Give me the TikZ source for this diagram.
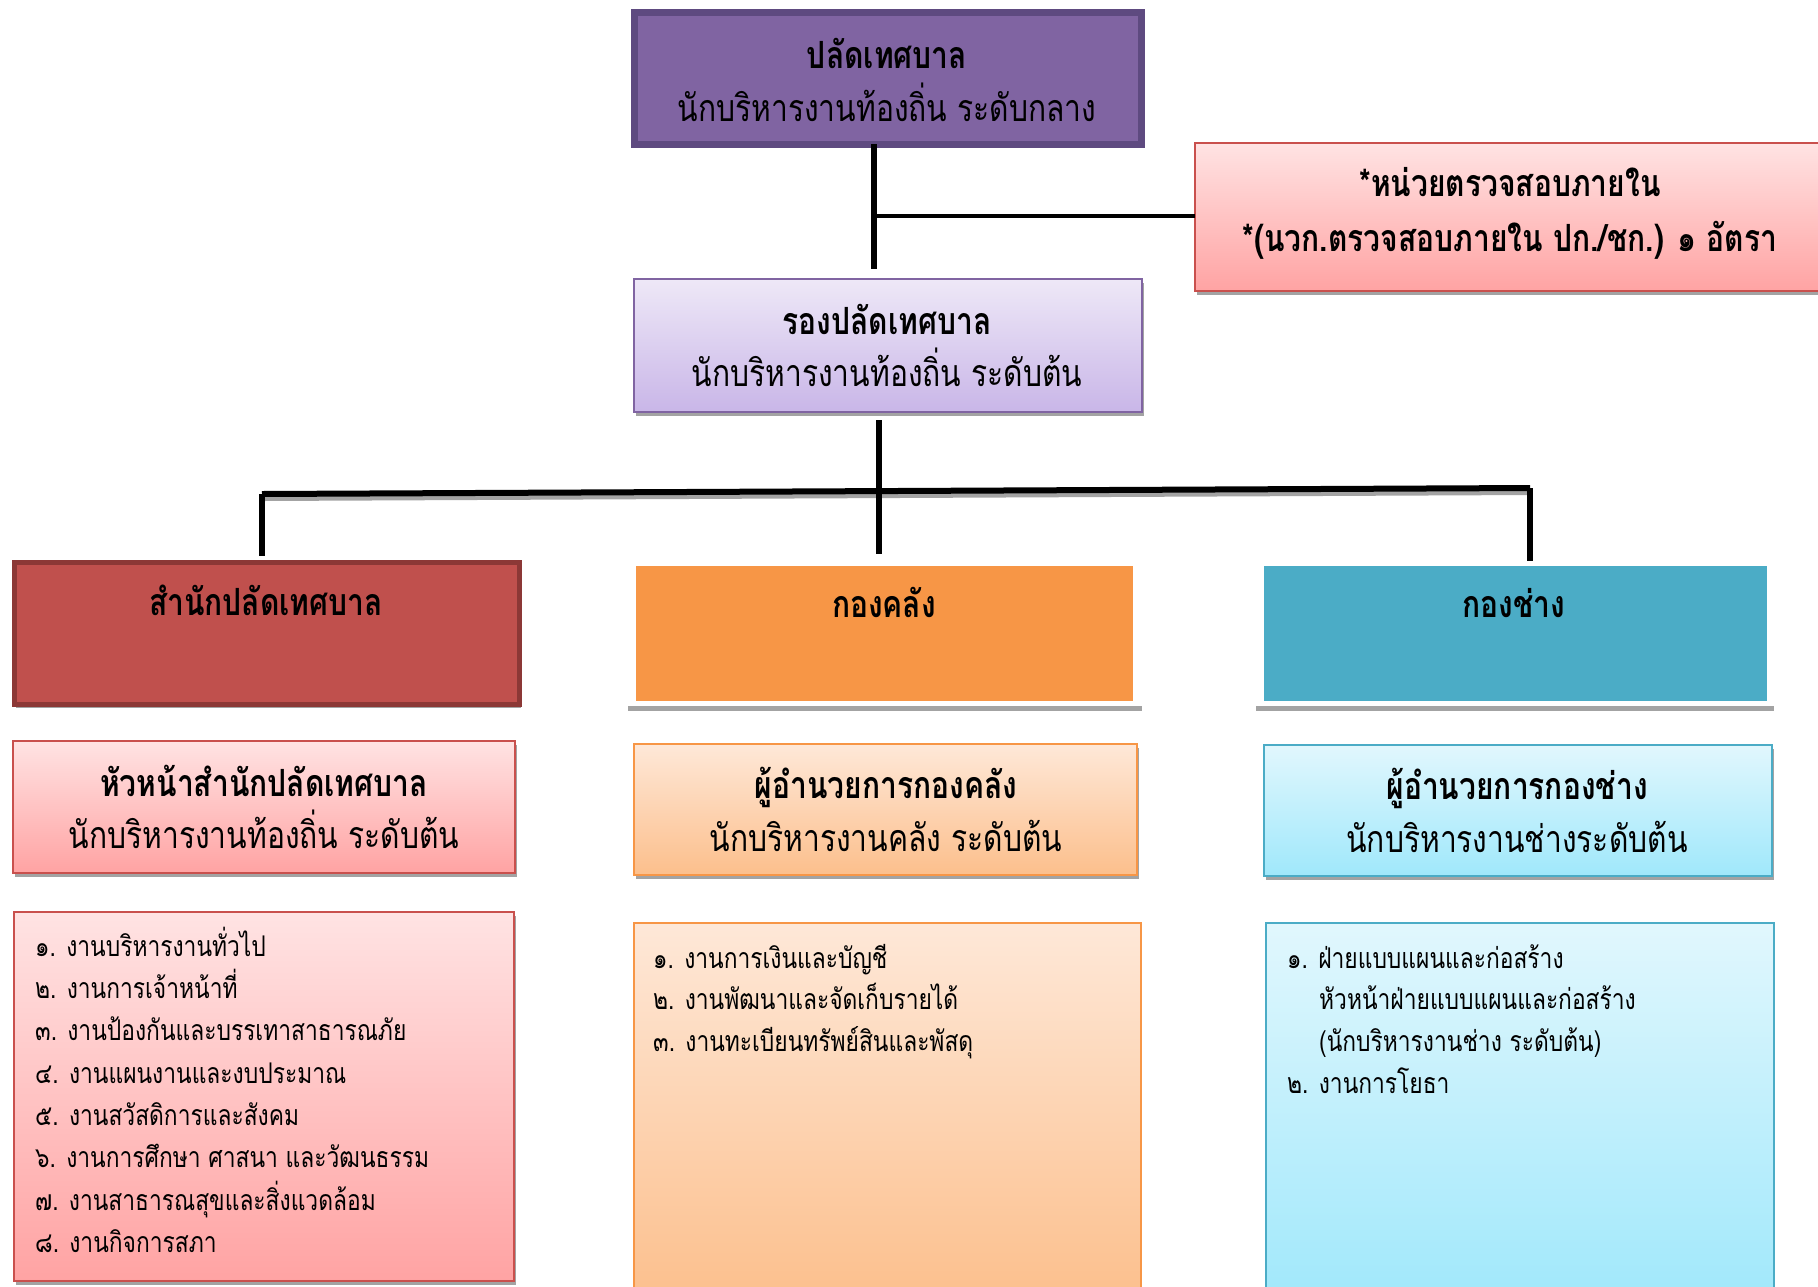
\documentclass[tikz,border=0pt]{standalone}
\usepackage{fontspec}
\newfontfamily\thai[Script=Thai, FakeStretch=0.8]{Loma}
\begin{document}
\definecolor{topfill}{HTML}{8064A2}
\definecolor{topline}{HTML}{5E4A80}
\definecolor{subline}{HTML}{8064A2}
\definecolor{subtop}{HTML}{EEE8F7}
\definecolor{subbot}{HTML}{C9B6E8}
\definecolor{redline}{HTML}{C9504D}
\definecolor{pinktop}{HTML}{FFE3E3}
\definecolor{pinkbot}{HTML}{FFA3A3}
\definecolor{redfill}{HTML}{C0504D}
\definecolor{redborder}{HTML}{8C3836}
\definecolor{orfill}{HTML}{F79646}
\definecolor{ortop}{HTML}{FEE8D8}
\definecolor{orbot}{HTML}{FCBF8C}
\definecolor{blfill}{HTML}{4BACC6}
\definecolor{bltop}{HTML}{E1F7FD}
\definecolor{blbot}{HTML}{A0E8FB}
\definecolor{shadowgray}{HTML}{A3A3A3}
\begin{tikzpicture}[x=1pt,y=-1pt,
  box/.style={rectangle, anchor=north west, inner sep=0pt, outer sep=0pt},
  shad/.style={preaction={fill=shadowgray, transform canvas={shift={(2pt,-4pt)}}}},
  fshad/.style={preaction={fill=shadowgray, transform canvas={shift={(0pt,-5pt)}}}},
  hd/.style={font=\thai\bfseries\fontsize{37.5}{44}\selectfont, anchor=mid, inner sep=0pt},
  rg/.style={font=\thai\fontsize{37.5}{44}\selectfont, anchor=mid, inner sep=0pt},
  li/.style={font=\thai\fontsize{28.5}{34}\selectfont, anchor=mid west, inner sep=0pt},
  conn/.style={draw=black, line width=6pt},
  thin/.style={draw=black, line width=3.5pt}
]
\useasboundingbox (0,0) rectangle (1818,1286);
\fill[white] (0,0) rectangle (1818,1286);

% ---- top box
\node[box, shad, fill=topfill, draw=topline, line width=7pt, minimum width=507pt, minimum height=132pt] (pb) at (634,12) {};
\node[hd] (pbt1) at (887,66) {ปลัดเทศบาล};
\node[rg] (pbt2) at (887,119) {นักบริหารงานท้องถิ่น ระดับกลาง};

% ---- audit box
\node[box, shad, top color=pinktop, bottom color=pinkbot, draw=redline, line width=1.5pt, minimum width=640pt, minimum height=148pt] (au) at (1195,143) {};
\node[hd] (aut1) at (1510,194) {*หน่วยตรวจสอบภายใน};
\node[hd] (aut2) at (1510,249) {*(นวก.ตรวจสอบภายใน ปก./ชก.) ๑ อัตรา};

% ---- deputy box
\node[box, shad, top color=subtop, bottom color=subbot, draw=subline, line width=2pt, minimum width=508pt, minimum height=133pt] (rp) at (634,279) {};
\node[hd] (rpt1) at (887,332) {รองปลัดเทศบาล};
\node[rg] (rpt2) at (887,384) {นักบริหารงานท้องถิ่น ระดับต้น};

% ---- row 3
\node[box, shad, fill=redfill, draw=redborder, line width=5pt, minimum width=505pt, minimum height=142pt] (sp) at (14,562) {};
\node[hd] (spt) at (266,613) {สำนักปลัดเทศบาล};
\node[box, fshad, fill=white, minimum width=514pt, minimum height=144pt] (klf) at (628,562) {};
\node[box, fill=orfill, minimum width=497pt, minimum height=135pt] (kl) at (636,566) {};
\node[hd] (klt) at (884,615) {กองคลัง};
\node[box, fshad, fill=white, minimum width=518pt, minimum height=144pt] (kcf) at (1256,562) {};
\node[box, fill=blfill, minimum width=503pt, minimum height=135pt] (kc) at (1264,566) {};
\node[hd] (kct) at (1514,615) {กองช่าง};

% ---- row 4
\node[box, shad, top color=pinktop, bottom color=pinkbot, draw=redline, line width=1.5pt, minimum width=502pt, minimum height=132pt] (h1) at (13,741) {};
\node[hd] (h1a) at (264,794) {หัวหน้าสำนักปลัดเทศบาล};
\node[rg] (h1b) at (264,846) {นักบริหารงานท้องถิ่น ระดับต้น};
\node[box, shad, top color=ortop, bottom color=orbot, draw=orfill, line width=1.5pt, minimum width=503pt, minimum height=131pt] (h2) at (634,744) {};
\node[hd] (h2a) at (886,796) {ผู้อำนวยการกองคลัง};
\node[rg] (h2b) at (886,849) {นักบริหารงานคลัง ระดับต้น};
\node[box, shad, top color=bltop, bottom color=blbot, draw=blfill, line width=1.5pt, minimum width=508pt, minimum height=131pt] (h3) at (1264,745) {};
\node[hd] (h3a) at (1517,797) {ผู้อำนวยการกองช่าง};
\node[rg] (h3b) at (1517,850) {นักบริหารงานช่างระดับต้น};

% ---- row 5
\node[box, shad, top color=pinktop, bottom color=pinkbot, draw=redline, line width=1.5pt, minimum width=500pt, minimum height=369pt] (l1) at (14,912) {};
\node[li] (l1a) at (35,954) {๑. งานบริหารงานทั่วไป};
\node[li] (l1b) at (35,996) {๒. งานการเจ้าหน้าที่};
\node[li] (l1c) at (35,1038) {๓. งานป้องกันและบรรเทาสาธารณภัย};
\node[li] (l1d) at (35,1081) {๔. งานแผนงานและงบประมาณ};
\node[li] (l1e) at (35,1123) {๕. งานสวัสดิการและสังคม};
\node[li] (l1f) at (35,1165) {๖. งานการศึกษา ศาสนา และวัฒนธรรม};
\node[li] (l1g) at (35,1208) {๗. งานสาธารณสุขและสิ่งแวดล้อม};
\node[li] (l1h) at (35,1250) {๘. งานกิจการสภา};

\node[box, top color=ortop, bottom color=orbot, draw=orfill, line width=1.5pt, minimum width=507pt, minimum height=380pt] (l2) at (634,923) {};
\node[li] (l2a) at (653,966) {๑. งานการเงินและบัญชี};
\node[li] (l2b) at (653,1007) {๒. งานพัฒนาและจัดเก็บรายได้};
\node[li] (l2c) at (653,1049) {๓. งานทะเบียนทรัพย์สินและพัสดุ};

\node[box, top color=bltop, bottom color=blbot, draw=blfill, line width=1.5pt, minimum width=508pt, minimum height=380pt] (l3) at (1266,923) {};
\node[li] (l3a) at (1287,966) {๑. ฝ่ายแบบแผนและก่อสร้าง};
\node[li] (l3b) at (1319,1007) {หัวหน้าฝ่ายแบบแผนและก่อสร้าง};
\node[li] (l3c) at (1319,1049) {(นักบริหารงานช่าง ระดับต้น)};
\node[li] (l3d) at (1287,1091) {๒. งานการโยธา};

% ---- connectors
\coordinate (c1) at (874,269);
\coordinate (c2) at (874,216);
\draw[conn] (pb.south -| c1) -- (c1);
\draw[thin] (c2) -- (au.west |- c2);

\coordinate (j0) at (879,554);
\coordinate (jl) at (262,494);
\coordinate (jr) at (1530,488);
\coordinate (el) at (262,556);
\coordinate (er) at (1530,561);
\draw[conn, preaction={draw=shadowgray, line width=6pt, transform canvas={shift={(2pt,-4pt)}}}] (jl) -- (jr);
\draw[conn] ([yshift=-8pt]rp.south -| j0) -- (j0);
\draw[conn] (jl) -- (el);
\draw[conn] (jr) -- (er);
\end{tikzpicture}
\end{document}
